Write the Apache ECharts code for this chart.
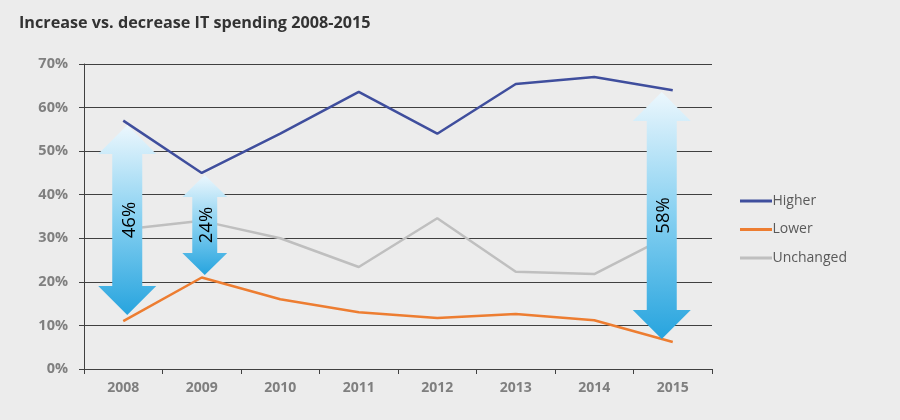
<!DOCTYPE html>
<html><head><meta charset="utf-8">
<script src="https://cdn.jsdelivr.net/npm/echarts@6/dist/echarts.min.js"></script>
<style>html,body{margin:0;padding:0;background:#ececec;}#c{width:900px;height:420px;}</style>
</head><body><div id="c"></div>
<script>
const years = ['2008','2009','2010','2011','2012','2013','2014','2015'];
const higher = [57, 45, 54, 63.6, 54, 65.4, 67, 64];
const lower = [11, 21, 16, 13, 11.7, 12.6, 11.2, 6.2];
const unchanged = [32, 34, 30, 23.4, 34.6, 22.3, 21.8, 31];
// arrows: [category index, top value, bottom value, label]
const arrows = [[0, 56, 12.4, '46%'], [1, 44.5, 21.6, '24%'], [7, 63.6, 6.9, '58%']];
const arrowShift = [4, 3, -11];

const chart = echarts.init(document.getElementById('c'), null, {renderer:'canvas'});
const grad = new echarts.graphic.LinearGradient(0,0,0,1,[
  {offset:0,color:'#ecf7fd'},{offset:0.5,color:'#86d0f1'},{offset:1,color:'#27a4de'}]);

chart.setOption({
  backgroundColor:'#ececec',
  animation:false,
  title:{text:'Increase vs. decrease IT spending 2008-2015', left:14, top:10,
    textStyle:{fontFamily:'Open Sans', fontWeight:'bold', fontSize:16.2, color:'#333'}},
  grid:{left:84, right:188, top:64, bottom:51},
  legend:{orient:'vertical', left:735, top:189, itemWidth:32, itemHeight:3, itemGap:14.5,
    icon:'rect', textStyle:{fontFamily:'Open Sans', fontSize:14, color:'#595959', padding:[0,0,0,-4.5]},
    data:['Higher','Lower','Unchanged']},
  xAxis:{type:'category', data:years, boundaryGap:true,
    axisLine:{lineStyle:{color:'#404040', width:1}},
    axisTick:{show:true, length:5, lineStyle:{color:'#404040'}},
    axisLabel:{fontFamily:'Open Sans', fontWeight:'bold', fontSize:14, color:'#7f7f7f', margin:12}},
  yAxis:{type:'value', min:0, max:70, interval:10,
    axisLine:{show:true, lineStyle:{color:'#404040'}},
    axisTick:{show:true, length:5, lineStyle:{color:'#404040'}},
    splitLine:{lineStyle:{color:'#404040', width:1}},
    axisLabel:{formatter:'{value}%', fontFamily:'Open Sans', fontWeight:'bold', fontSize:14.5, color:'#7f7f7f', margin:16}},
  series:[
    {name:'Higher', type:'line', data:higher, symbol:'none', lineStyle:{color:'#3f4e9d', width:2.5}, itemStyle:{color:'#3f4e9d'}, z:2},
    {name:'Lower', type:'line', data:lower, symbol:'none', lineStyle:{color:'#ed7d31', width:2.5}, itemStyle:{color:'#ed7d31'}, z:2},
    {name:'Unchanged', type:'line', data:unchanged, symbol:'none', lineStyle:{color:'#bfbfbf', width:2.5}, itemStyle:{color:'#bfbfbf'}, z:2},
    {type:'custom', z:5, data:arrows, encode:{x:0, y:[1,2]},
     renderItem:function(params, api){
       const i = params.dataIndex;
       const t = api.coord([api.value(0), api.value(1)]);
       const b = api.coord([api.value(0), api.value(2)]);
       const cx = t[0] + arrowShift[i];
       const y0 = t[1], y1 = b[1], len = y1 - y0;
       const hh = Math.min(29, len*0.225), hH = Math.min(29, len*0.22), sh = Math.min(15, len*0.125);
       const pts = [[cx,y0],[cx+hh,y0+hH],[cx+sh,y0+hH],[cx+sh,y1-hH],[cx+hh,y1-hH],[cx,y1],
                    [cx-hh,y1-hH],[cx-sh,y1-hH],[cx-sh,y0+hH],[cx-hh,y0+hH]];
       return {type:'group', children:[
         {type:'polygon', shape:{points:pts}, style:{fill:grad}},
         {type:'text', x:cx+2, y:(y0+y1)/2, rotation:Math.PI/2,
          style:{text:api.value(3), fontFamily:'Open Sans', fontSize:18.5, fill:'#000', align:'center', verticalAlign:'middle'}}
       ]};
     }}
  ]
});
</script></body></html>
